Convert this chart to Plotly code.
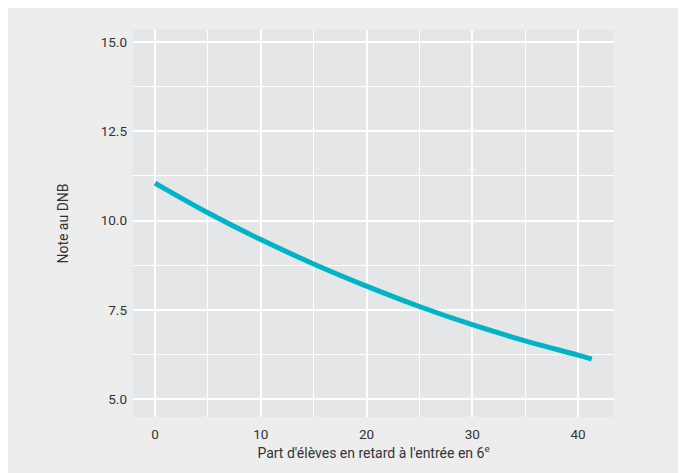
import plotly.graph_objects as go

# Data
part_retard = [0, 5, 10, 15, 20, 25, 30, 35, 40, 41.3]
note_dnb = [11.05, 10.22, 9.47, 8.79, 8.17, 7.60, 7.09, 6.64, 6.24, 6.13]

x_ticks = [0, 10, 20, 30, 40]
y_ticks = [5.0, 7.5, 10.0, 12.5, 15.0]
y_tick_labels = ["5.0", "7.5", "10.0", "12.5", "15.0"]

W, H = 686, 473
L, R, T, B = 125, 80, 22, 64

fig = go.Figure()
fig.add_trace(go.Scatter(
    x=part_retard, y=note_dnb, mode="lines",
    line=dict(color="#00b3c6", width=5, shape="spline"),
    hoverinfo="x+y", showlegend=False,
))

font_color = "#333333"
fs = 13.5
fig.update_layout(
    width=W, height=H,
    margin=dict(l=L, r=R, t=T, b=B, pad=0),
    paper_bgcolor="#ededed",
    plot_bgcolor="#e5e6e8",
    font=dict(family="Roboto, Arial, sans-serif", size=fs, color=font_color),
    xaxis=dict(
        range=[-2.08, 43.4], tickvals=x_ticks, showgrid=True,
        gridcolor="white", gridwidth=2, zeroline=False, showline=False,
        ticks="", ticklabelstandoff=7,
        tickfont=dict(size=fs, color=font_color),
        minor=dict(dtick=5, tick0=0, showgrid=True, gridcolor="white", gridwidth=1),
        title=dict(text="Part d'élèves en retard à l'entrée en 6<sup>e</sup>",
                   font=dict(size=14, color=font_color), standoff=7),
    ),
    yaxis=dict(
        range=[4.51, 15.33], tickvals=y_ticks, ticktext=y_tick_labels,
        showgrid=True, gridcolor="white", gridwidth=2, zeroline=False,
        showline=False, ticks="", ticklabelstandoff=5,
        tickfont=dict(size=fs, color=font_color),
        minor=dict(dtick=1.25, tick0=5, showgrid=True, gridcolor="white", gridwidth=1),
        title=dict(text="Note au DNB", font=dict(size=14, color=font_color), standoff=28),
    ),
)

fig.write_html("out.html")
